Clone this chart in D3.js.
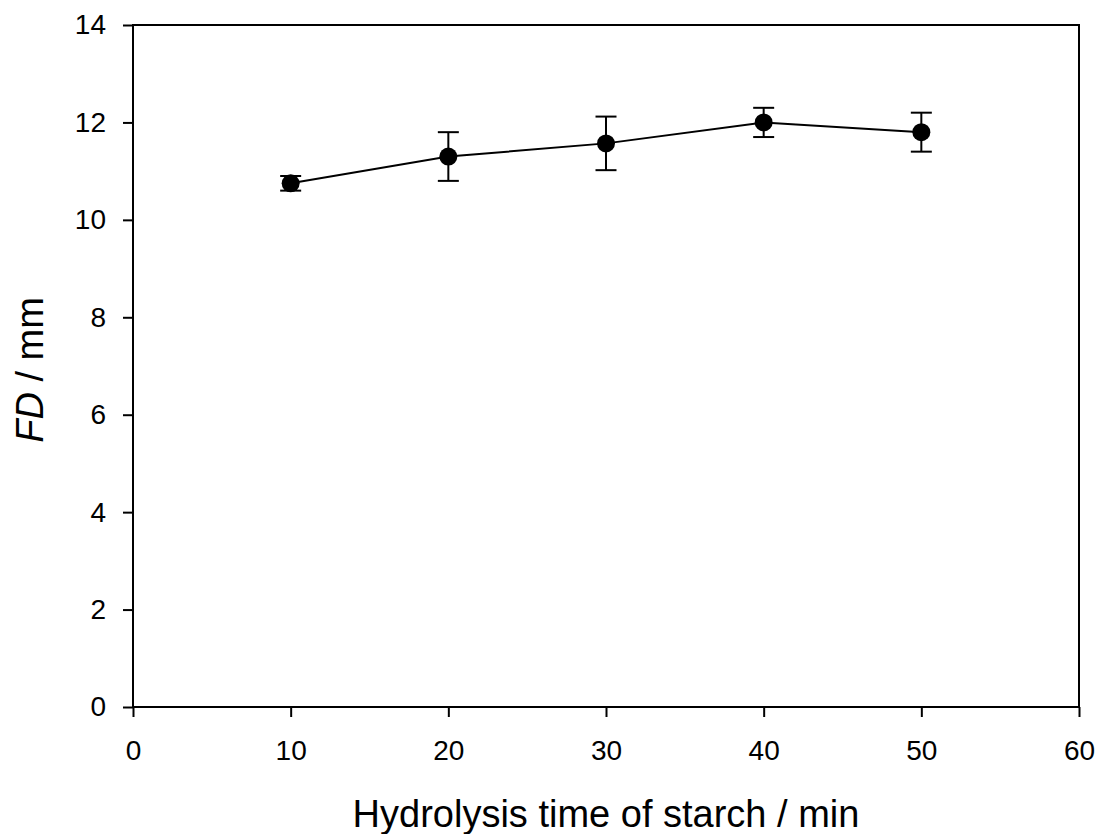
<!DOCTYPE html>
<html><head><meta charset="utf-8">
<script src="https://cdn.jsdelivr.net/npm/d3@7"></script>
<style>body{margin:0;background:#fff}svg{display:block}text{font-family:"Liberation Sans",Arial,sans-serif}</style>
</head><body>
<svg id="c" width="1102" height="834"></svg>
<script>
const times = [10, 20, 30, 40, 50];
const fd = [10.75, 11.30, 11.57, 12.00, 11.80];
const err = [0.15, 0.50, 0.55, 0.30, 0.40];
const xTicks = [0, 10, 20, 30, 40, 50, 60];
const yTicks = [0, 2, 4, 6, 8, 10, 12, 14];

const svg = d3.select("#c");
const L = 133, R = 1079, T = 25, B = 707;
const x = d3.scaleLinear().domain([0, 60]).range([L, R]);
const y = d3.scaleLinear().domain([0, 14]).range([B, T]);

svg.append("rect").attr("x", L).attr("y", T).attr("width", R - L).attr("height", B - T)
  .attr("fill", "none").attr("stroke", "#000").attr("stroke-width", 2);

const xa = svg.append("g").attr("transform", `translate(0,${B})`)
  .call(d3.axisBottom(x).tickValues(xTicks).tickSize(10).tickPadding(23).tickFormat(d3.format("d")));
const ya = svg.append("g").attr("transform", `translate(${L},0)`)
  .call(d3.axisLeft(y).tickValues(yTicks).tickSize(10).tickPadding(17).tickFormat(d3.format("d")));
[xa, ya].forEach(a => {
  a.select(".domain").remove();
  a.selectAll("line").attr("stroke", "#000").attr("stroke-width", 2);
  a.selectAll("text").attr("font-size", 28).attr("fill", "#000")
    .style("font-family", '"Liberation Sans",Arial,sans-serif');
});

svg.append("text").attr("x", 606).attr("y", 827).attr("text-anchor", "middle")
  .attr("font-size", 38).text("Hydrolysis time of starch / min");
const yt = svg.append("text").attr("transform", `translate(43,370) rotate(-90)`)
  .attr("text-anchor", "middle").attr("font-size", 38);
yt.append("tspan").attr("font-style", "italic").text("FD");
yt.append("tspan").text(" / mm");

const data = times.map((t, i) => ({t, v: fd[i], e: err[i]}));
svg.append("path").datum(data)
  .attr("d", d3.line().x(d => x(d.t)).y(d => y(d.v)))
  .attr("fill", "none").attr("stroke", "#000").attr("stroke-width", 2);

const eb = svg.append("g").attr("stroke", "#000").attr("stroke-width", 2);
data.forEach(d => {
  const cx = x(d.t), y1 = y(d.v + d.e), y2 = y(d.v - d.e);
  eb.append("line").attr("x1", cx).attr("x2", cx).attr("y1", y1).attr("y2", y2);
  eb.append("line").attr("x1", cx - 10.5).attr("x2", cx + 10.5).attr("y1", y1).attr("y2", y1);
  eb.append("line").attr("x1", cx - 10.5).attr("x2", cx + 10.5).attr("y1", y2).attr("y2", y2);
});
svg.append("g").selectAll("circle").data(data).join("circle")
  .attr("cx", d => x(d.t)).attr("cy", d => y(d.v)).attr("r", 9).attr("fill", "#000");
</script>
</body></html>
